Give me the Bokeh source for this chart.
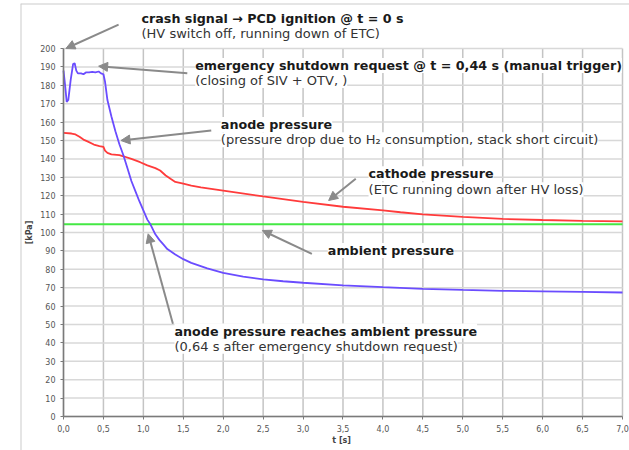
from bokeh.plotting import figure
from bokeh.models import (Label, Arrow, NormalHead, FixedTicker, CustomJSTickFormatter, Span)
from bokeh.embed import file_html
from bokeh.resources import INLINE

# ---- data ----
anode_t = [0.00, 0.02, 0.04, 0.06, 0.09, 0.12, 0.14, 0.16, 0.18, 0.22, 0.25, 0.28, 0.32,
           0.36, 0.40, 0.44, 0.47, 0.50, 0.52, 0.55, 0.60, 0.65, 0.70, 0.75, 0.80, 0.85,
           0.90, 0.95, 1.00, 1.05, 1.09, 1.15, 1.20, 1.25, 1.30, 1.40, 1.50, 1.60, 1.70,
           1.80, 2.00, 2.25, 2.50, 2.75, 3.00, 3.50, 4.00, 4.50, 5.00, 5.50, 6.00, 6.50, 7.00]
anode_p = [188.0, 180.0, 171.0, 172.0, 183.0, 191.5, 192.0, 188.0, 186.5, 186.5, 186.0, 187.0, 187.0,
           187.3, 187.0, 187.5, 186.5, 186.0, 182.0, 172.0, 163.0, 155.0, 148.0, 142.0, 135.0, 128.0,
           122.5, 117.0, 112.0, 107.0, 104.3, 99.0, 96.0, 93.5, 91.0, 88.0, 85.5, 83.5, 82.0,
           80.5, 78.0, 76.0, 74.5, 73.5, 72.7, 71.3, 70.3, 69.4, 68.8, 68.3, 68.0, 67.7, 67.4]

cathode_t = [0.00, 0.10, 0.15, 0.20, 0.25, 0.30, 0.38, 0.45, 0.50, 0.52, 0.55, 0.60, 0.70,
             0.76, 0.85, 0.96, 1.05, 1.15, 1.21, 1.28, 1.34, 1.40, 1.50, 1.60, 1.72, 2.00,
             2.50, 3.00, 3.50, 4.00, 4.22, 4.50, 5.00, 5.50, 6.00, 6.50, 7.00]
cathode_p = [154.2, 153.8, 153.3, 152.0, 150.5, 149.5, 147.8, 147.0, 146.5, 144.5, 143.3, 142.5, 142.0,
             141.3, 140.0, 138.2, 136.5, 135.0, 133.7, 131.0, 129.2, 127.5, 126.5, 125.5, 124.5, 122.8,
             119.6, 116.6, 114.0, 112.0, 111.0, 109.8, 108.5, 107.4, 106.8, 106.3, 106.0]

ambient_t = [0.0, 7.0]
ambient_p = [104.5, 104.5]

x_ticks = [0.0, 0.5, 1.0, 1.5, 2.0, 2.5, 3.0, 3.5, 4.0, 4.5, 5.0, 5.5, 6.0, 6.5, 7.0]
y_ticks = list(range(0, 201, 10))
x_axis_bounds = (0.0, 7.0)
y_axis_bounds = (0, 200)

# annotations: (bold text, normal text, text x, bold y, normal y, arrow start x,y, arrow tip x,y)
notes = [
    ("crash signal \u2192 PCD ignition @ t = 0 s", "(HV switch off, running down of ETC)",
     0.977, 216.3, 208.2, 0.69, 213.0, 0.03, 200.0),
    ("emergency shutdown request @ t = 0,44 s (manual trigger)", "(closing of SIV + OTV, )",
     1.65, 190.8, 182.6, 1.55, 186.6, 0.44, 190.4),
    ("anode pressure", "(pressure drop due to H\u2082 consumption, stack short circuit)",
     1.97, 158.7, 150.4, 1.85, 155.4, 0.72, 150.0),
    ("cathode pressure", "(ETC running down after HV loss)",
     3.82, 131.9, 123.2, 3.66, 129.2, 3.32, 117.4),
    ("ambient pressure", None,
     3.31, 90.2, None, 3.11, 88.4, 2.49, 101.1),
    ("anode pressure reaches ambient pressure", "(0,64 s after emergency shutdown request)",
     1.39, 46.4, 38.2, 1.37, 50.4, 1.06, 99.3),
]

FONT = "DejaVu Sans"

# visible window around the plotting area (room for the notes and the outer frame)
X_VIEW = (-0.5385, 7.0877)
Y_VIEW = (-18.48, 224.46)

p = figure(width=629, height=450, x_range=X_VIEW, y_range=Y_VIEW,
           output_backend="svg", toolbar_location=None,
           min_border_left=20, min_border_top=3, min_border_bottom=0, min_border_right=0)
p.background_fill_color = "white"
p.border_fill_color = "white"
p.outline_line_color = None
p.xgrid.visible = False
p.ygrid.visible = False

# grid lines drawn from the tick lists, limited to the plotting area
p.segment(x0=x_ticks, x1=x_ticks, y0=[y_axis_bounds[0]] * len(x_ticks),
          y1=[y_axis_bounds[1]] * len(x_ticks), line_color="#c4c4c4", line_width=1.5)
p.segment(x0=[x_axis_bounds[0]] * len(y_ticks), x1=[x_axis_bounds[1]] * len(y_ticks),
          y0=y_ticks, y1=y_ticks, line_color="#d8d8d8", line_width=1.5)

# outer frame (left and top edges of the visible window)
p.add_layout(Span(location=X_VIEW[0], dimension="height", line_color="#cccccc", line_width=2))
p.add_layout(Span(location=Y_VIEW[1], dimension="width", line_color="#cccccc", line_width=2))

# axes placed at t = 0 and p = 0
for ax in (p.xaxis[0], p.yaxis[0]):
    ax.fixed_location = 0
    ax.axis_line_color = "#7a7a7a"
    ax.axis_line_width = 1.5
    ax.major_tick_line_color = "#7a7a7a"
    ax.major_tick_in = 0
    ax.major_tick_out = 3
    ax.minor_tick_line_color = None
    ax.major_label_text_font = FONT
    ax.major_label_text_font_size = "8px"
    ax.major_label_text_color = "#555555"
    ax.axis_label_text_font = FONT
    ax.axis_label_text_font_size = "8px"
    ax.axis_label_text_font_style = "bold"
    ax.axis_label_text_color = "#444444"

p.xaxis.bounds = x_axis_bounds
p.yaxis.bounds = y_axis_bounds
p.xaxis.ticker = FixedTicker(ticks=x_ticks)
p.yaxis.ticker = FixedTicker(ticks=y_ticks)
p.xaxis.formatter = CustomJSTickFormatter(code="return tick.toFixed(1).replace('.', ',');")
p.xaxis.axis_label = "t  [s]"
p.yaxis.axis_label = "[kPa]"
p.xaxis.major_label_standoff = 6
p.xaxis.axis_label_standoff = 0
p.yaxis.major_label_standoff = 5
p.yaxis.axis_label_standoff = 3

# lines
p.line(ambient_t, ambient_p, line_color="#44e844", line_width=2)
p.line(cathode_t, cathode_p, line_color="#ff3b3b", line_width=1.8)
p.line(anode_t, anode_p, line_color="#6a4cff", line_width=1.8)

# annotations
for bold, normal, tx, by, ny, ax0, ay0, ax1, ay1 in notes:
    p.add_layout(Arrow(end=NormalHead(size=9, fill_color="#8a8a8a", line_color="#8a8a8a"),
                       x_start=ax0, y_start=ay0, x_end=ax1, y_end=ay1,
                       line_color="#8a8a8a", line_width=2))
    p.add_layout(Label(x=tx, y=by, text=bold, text_font=FONT, text_font_size="12.7px",
                       text_font_style="bold", text_color="#1a1a1a", text_baseline="middle",
                       background_fill_color="white"))
    if normal:
        p.add_layout(Label(x=tx, y=ny, text=normal, text_font=FONT, text_font_size="13px",
                           text_color="#333333", text_baseline="middle",
                           background_fill_color="white"))

open("out.html", "w").write(file_html(p, INLINE))
